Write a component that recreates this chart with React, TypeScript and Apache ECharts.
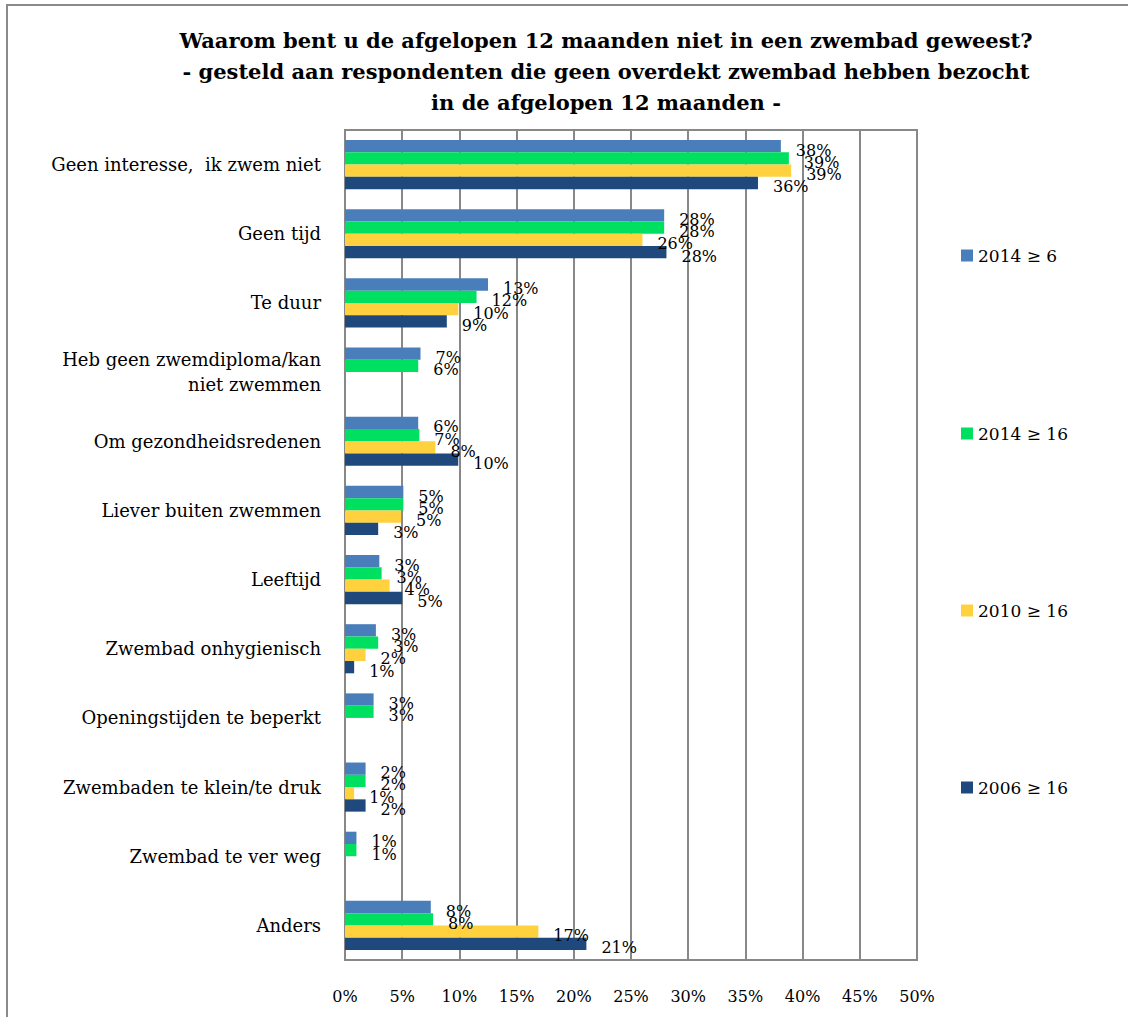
import React, { useEffect, useRef } from "react";
import * as echarts from "echarts";

const categories = [
  "Geen interesse,  ik zwem niet",
  "Geen tijd",
  "Te duur",
  "Heb geen zwemdiploma/kan\nniet zwemmen",
  "Om gezondheidsredenen",
  "Liever buiten zwemmen",
  "Leeftijd",
  "Zwembad onhygienisch",
  "Openingstijden te beperkt",
  "Zwembaden te klein/te druk",
  "Zwembad te ver weg",
  "Anders",
];

const seriesNames = ["2014 ≥ 6", "2014 ≥ 16", "2010 ≥ 16", "2006 ≥ 16"];
const seriesColors = ["#4A7EBB", "#00E060", "#FFD13F", "#1F497D"];

const v2014_6 = [38.1, 27.9, 12.5, 6.6, 6.4, 5.1, 3.0, 2.7, 2.5, 1.8, 1.0, 7.5];
const v2014_16 = [38.8, 27.9, 11.5, 6.4, 6.5, 5.1, 3.2, 2.9, 2.5, 1.8, 1.0, 7.7];
const v2010_16 = [39.0, 26.0, 9.9, null, 7.9, 4.9, 3.9, 1.8, null, 0.8, null, 16.9];
const v2006_16 = [36.1, 28.1, 8.9, null, 9.9, 2.9, 5.0, 0.8, null, 1.8, null, 21.1];

const seriesValues = [v2014_6, v2014_16, v2010_16, v2006_16];

const xTicks = { min: 0, max: 50, interval: 5 };
const legendCenters = [251, 429, 606, 783];

const FONT = "DejaVu Serif";

export default function App() {
  const ref = useRef<HTMLDivElement>(null);
  useEffect(() => {
    if (!ref.current) return;
    const chart = echarts.init(ref.current, null, { renderer: "svg" });
    chart.setOption({
      animation: false,
      backgroundColor: "#ffffff",
      title: {
        text:
          "Waarom bent u de afgelopen 12 maanden niet in een zwembad geweest?\n- gesteld aan respondenten die geen overdekt zwembad hebben bezocht\nin de afgelopen 12 maanden -",
        left: 601,
        top: 20,
        textAlign: "center",
        textStyle: {
          fontFamily: FONT,
          fontSize: 21,
          fontWeight: "bold",
          lineHeight: 31,
          color: "#000",
        },
      },
      graphic: [
        {
          type: "rect",
          shape: { x: 7, y: 5, width: 1300, height: 1200 },
          style: { fill: "none", stroke: "#8a8a8a", lineWidth: 2 },
          silent: true,
        },
      ],
      legend: seriesNames.map((n, i) => ({
        data: [n],
        left: 956,
        top: legendCenters[i] - 9,
        orient: "vertical",
        itemWidth: 12,
        itemHeight: 12,
        itemGap: 8,
        icon: "rect",
        textStyle: { fontFamily: FONT, fontSize: 17, color: "#000" },
      })),
      grid: {
        left: 345,
        top: 130,
        width: 572,
        height: 830,
        show: true,
        borderColor: "#888888",
        borderWidth: 2,
        containLabel: false,
      },
      xAxis: {
        type: "value",
        min: xTicks.min,
        max: xTicks.max,
        interval: xTicks.interval,
        axisLabel: {
          formatter: "{value}%",
          fontFamily: FONT,
          fontSize: 16,
          color: "#000",
          margin: 28,
        },
        axisLine: { show: false },
        axisTick: { show: false },
        splitLine: { show: true, lineStyle: { color: "#888888", width: 2 } },
      },
      yAxis: {
        type: "category",
        data: categories,
        inverse: true,
        axisLabel: {
          fontFamily: FONT,
          fontSize: 18,
          color: "#000",
          margin: 24,
          lineHeight: 25,
        },
        axisLine: { show: false },
        axisTick: { show: false },
        splitLine: { show: false },
      },
      series: seriesNames.map((n, i) => ({
        name: n,
        type: "bar",
        data: seriesValues[i],
        barGap: "0%",
        barCategoryGap: "29%",
        itemStyle: { color: seriesColors[i] },
        label: {
          show: true,
          position: "right",
          distance: 15,
          offset: [0, 4],
          fontFamily: FONT,
          fontSize: 16,
          color: "#000",
          formatter: (p: any) => (p.value == null ? "" : Math.round(p.value) + "%"),
        },
      })),
    });
    return () => chart.dispose();
  }, []);
  return (
    <div
      ref={ref}
      style={{ position: "absolute", left: 0, top: 0, width: 1128, height: 1017 }}
    />
  );
}
